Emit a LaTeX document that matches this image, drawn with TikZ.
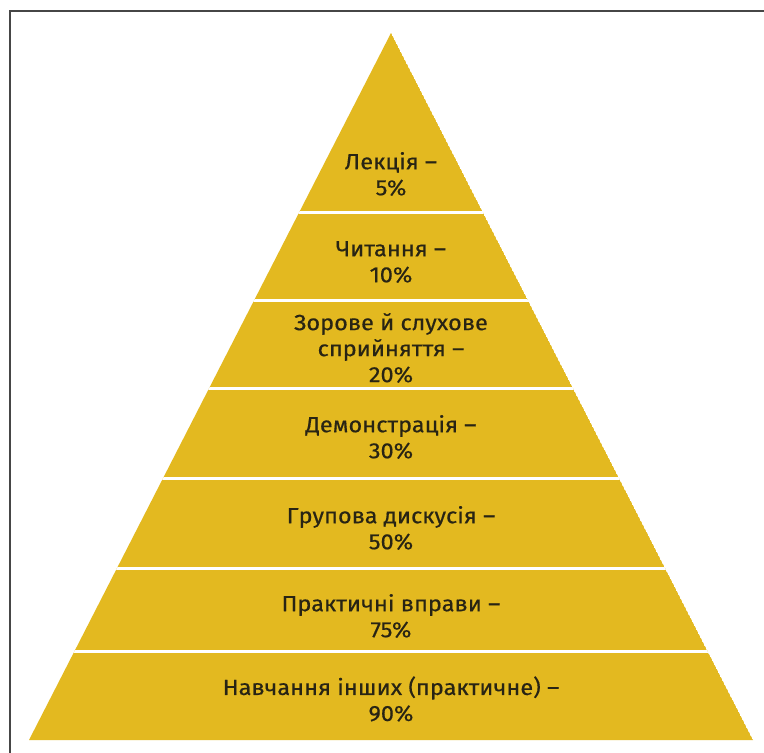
\documentclass[tikz,border=0pt]{standalone}
\usepackage{fontspec}
\setmainfont[FakeStretch=1.07,FakeBold=0.4]{Fira Sans}
\definecolor{gold}{RGB}{227,185,32}
\definecolor{frame}{RGB}{70,70,70}
\definecolor{txt}{RGB}{40,36,20}
\begin{document}
\begin{tikzpicture}[x=1pt,y=-1pt,
  lbl/.style={align=center,text=txt,font=\fontsize{22}{26}\selectfont,inner sep=0pt},
  gap/.style={draw=white,line width=3pt}]
\useasboundingbox (0,0) rectangle (764,753);
\fill[white] (0,0) rectangle (764,753);
\draw[frame,line width=2pt] (9.5,753) -- (9.5,10.5) -- (764,10.5);
\coordinate (A) at (391,33);
\coordinate (BL) at (29,740);
\coordinate (BR) at (753,740);
\begin{scope}
\clip (A) -- (BL) -- (BR) -- cycle;
\fill[gold] (A) -- (BL) -- (BR) -- cycle;
\foreach \yy in {212,300,388,478,568,651}
  \draw[gap] (0,\yy) -- (764,\yy);
\end{scope}
\node[lbl] (b1) at (391,174) {Лекція –\\5\%};
\node[lbl] (b2) at (391,262) {Читання –\\10\%};
\node[lbl] (b3) at (391,348) {Зорове й слухове\\сприйняття –\\20\%};
\node[lbl] (b4) at (391,437) {Демонстрація –\\30\%};
\node[lbl] (b5) at (391,528) {Групова дискусія –\\50\%};
\node[lbl] (b6) at (391,616) {Практичні вправи –\\75\%};
\node[lbl] (b7) at (391,699) {Навчання інших (практичне) –\\90\%};
\end{tikzpicture}
\end{document}
